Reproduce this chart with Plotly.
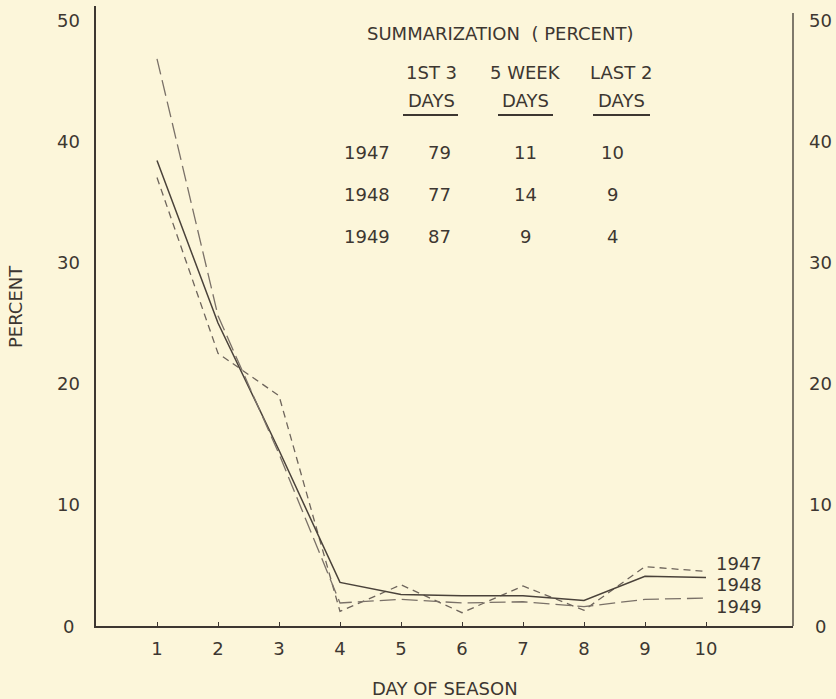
import plotly.graph_objects as go

# ── Data ────────────────────────────────────────────────────────
DAYS = [1, 2, 3, 4, 5, 6, 7, 8, 9, 10]
PCT_1947 = [37.0, 22.5, 19.0, 1.2, 3.4, 1.1, 3.3, 1.3, 4.9, 4.5]
PCT_1948 = [38.4, 25.0, 14.5, 3.6, 2.6, 2.5, 2.5, 2.1, 4.1, 4.0]
PCT_1949 = [46.8, 25.6, 14.2, 1.9, 2.2, 1.9, 2.0, 1.6, 2.2, 2.3]

Y_TICKS = [0, 10, 20, 30, 40, 50]

SUMMARY_HEAD = ["1ST 3", "5 WEEK", "LAST 2"]
SUMMARY_YEARS = ["1947", "1948", "1949"]
SUMMARY_FIRST3 = [79, 77, 87]
SUMMARY_WEEK = [11, 14, 9]
SUMMARY_LAST2 = [10, 9, 4]

# ── Style ────────────────────────────────────────────────────────
INK = "#3d3731"
BG = "#fcf6da"
FONT = "DejaVu Sans"
FS = 18

W, H = 836, 699
L, R, T, B = 96, 793, 6, 626          # plot area in pixels
X_MAX = (R - L) / 61.0                # one day ≈ 61 px, day 0 at left axis
Y_MAX = (B - T) / 12.12               # one percent ≈ 12.12 px


def px(x):
    return (x - L) / (R - L)


def py(y):
    return (B - y) / (B - T)


def label(x, y, text, anchor="center", **kw):
    return dict(x=px(x), y=py(y), xref="paper", yref="paper", text=text,
                showarrow=False, xanchor=anchor, yanchor="middle",
                font=dict(size=FS, color=INK, family=FONT), **kw)


fig = go.Figure()

fig.add_trace(go.Scatter(
    x=DAYS, y=PCT_1947, mode="lines", name="1947", hoverinfo="skip",
    line=dict(color="#6e655c", width=1.3, dash="7px,5px"),
))
fig.add_trace(go.Scatter(
    x=DAYS, y=PCT_1948, mode="lines", name="1948", hoverinfo="skip",
    line=dict(color="#4a423a", width=1.5),
))
fig.add_trace(go.Scatter(
    x=DAYS, y=PCT_1949, mode="lines", name="1949", hoverinfo="skip",
    line=dict(color="#7a7168", width=1.3, dash="16px,6px"),
))

ann = []

# y tick labels, both sides
for v in Y_TICKS:
    for xp in (68, 820):
        ann.append(dict(x=px(xp), y=v, xref="paper", yref="y", text=str(v),
                        showarrow=False, xanchor="center", yanchor="middle",
                        font=dict(size=FS, color=INK, family=FONT)))

# series labels at the right end
for name, yy in zip(SUMMARY_YEARS, [563, 584, 606]):
    ann.append(label(714, yy, name, anchor="left"))

# axis titles
ann.append(label((L + R) / 2, 688, "DAY OF SEASON"))
ann.append(label(15, 307, "PERCENT", textangle=-90))

# summary table
ann.append(label(500, 33, "SUMMARIZATION  ( PERCENT)"))
col_x = [431, 525, 621]
for cx, head in zip(col_x, SUMMARY_HEAD):
    ann.append(label(cx, 73, head))
    ann.append(label(cx, 100, "DAYS"))

row_y = [153, 195, 236]
for i, ry in enumerate(row_y):
    cells = [(367, SUMMARY_YEARS[i]), (439, SUMMARY_FIRST3[i]),
             (525, SUMMARY_WEEK[i]), (612, SUMMARY_LAST2[i])]
    for cx, val in cells:
        ann.append(label(cx, ry, str(val)))

# underlines under the column heads
shapes = []
for x0, x1 in [(403, 458), (498, 553), (593, 650)]:
    shapes.append(dict(type="line", xref="paper", yref="paper",
                       x0=px(x0), x1=px(x1), y0=py(115), y1=py(115),
                       line=dict(color=INK, width=2)))
# right axis line (slightly shorter than the left one)
shapes.append(dict(type="line", xref="paper", yref="paper",
                   x0=1, x1=1, y0=0, y1=py(13), line=dict(color=INK, width=1.3)))

fig.update_layout(
    width=W, height=H, autosize=False,
    margin=dict(l=L, r=W - R, t=T, b=H - B),
    paper_bgcolor=BG, plot_bgcolor="rgba(0,0,0,0)",
    showlegend=False, hovermode=False,
    font=dict(family=FONT, size=FS, color=INK),
    xaxis=dict(
        range=[0, X_MAX], showgrid=False, zeroline=False,
        showline=True, linecolor=INK, linewidth=1.5,
        tickvals=DAYS, ticktext=[str(d) for d in DAYS],
        ticks="inside", ticklen=4, tickcolor=INK,
        tickfont=dict(size=FS, color=INK, family=FONT),
        ticklabelstandoff=6,
    ),
    yaxis=dict(
        range=[0, Y_MAX], showgrid=False, zeroline=False,
        showline=True, linecolor=INK, linewidth=1.5,
        showticklabels=False, ticks="",
    ),
    annotations=ann,
    shapes=shapes,
)

# drop the default body margin so the figure sits flush with the window
fig.write_html(
    "out.html",
    config={"displayModeBar": False},
    post_script="document.body.style.margin='0';document.body.style.overflow='hidden';",
)
